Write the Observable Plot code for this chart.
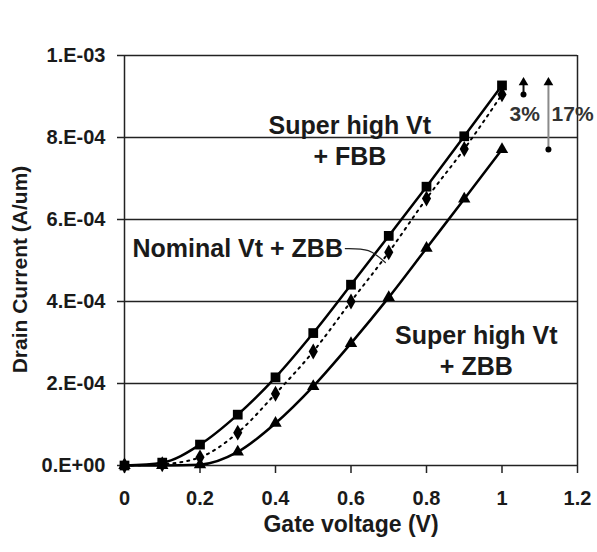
<!DOCTYPE html>
<html>
<head>
<meta charset="utf-8">
<script src="https://cdn.jsdelivr.net/npm/d3@7"></script>
<script src="https://cdn.jsdelivr.net/npm/@observablehq/plot@0.6"></script>
<style>
  html, body { margin: 0; padding: 0; background: #fff; }
  #chart svg { display: block; font-family: "Liberation Sans", Arial, sans-serif; font-weight: bold; }
</style>
</head>
<body>
<div id="chart"></div>
<script>
// Gate voltage (V)
const gateVoltage = [0, 0.1, 0.2, 0.3, 0.4, 0.5, 0.6, 0.7, 0.8, 0.9, 1.0];
// Drain current (A/um)
const superHighFBB = [0, 7e-6, 5.1e-5, 1.24e-4, 2.15e-4, 3.23e-4, 4.41e-4, 5.6e-4, 6.8e-4, 8.03e-4, 9.27e-4];
const nominalZBB   = [0, 3e-6, 2.0e-5, 8.0e-5, 1.75e-4, 2.78e-4, 4.0e-4, 5.2e-4, 6.51e-4, 7.72e-4, 9.05e-4];
const superHighZBB = [0, 0, 2e-6, 3.3e-5, 1.03e-4, 1.93e-4, 2.98e-4, 4.1e-4, 5.3e-4, 6.5e-4, 7.71e-4];

const xTicks = [0, 0.2, 0.4, 0.6, 0.8, 1.0, 1.2];
const xTickLabels = ["0", "0.2", "0.4", "0.6", "0.8", "1", "1.2"];
const yTicks = [0, 2e-4, 4e-4, 6e-4, 8e-4, 1e-3];
const yTickLabels = ["0.E+00", "2.E-04", "4.E-04", "6.E-04", "8.E-04", "1.E-03"];

const seriesLabels = ["Super high Vt\n+ FBB", "Nominal Vt + ZBB", "Super high Vt\n+ ZBB"];
const percentLabels = ["3%", "17%"];
const arrowTip = 9.34e-4;

const rows = (ys) => gateVoltage.map((v, i) => ({v, id: ys[i]}));
const fbb = rows(superHighFBB);
const nom = rows(nominalZBB);
const zbb = rows(superHighZBB);
const last = gateVoltage.length - 1;

const arrows = [
  {x: 1.057, y1: nominalZBB[last], y2: arrowTip, shaft: "#111"},
  {x: 1.123, y1: superHighZBB[last], y2: arrowTip, shaft: "#8a8a8a"}
];

const textColor = "#1a1a1a";

const chart = Plot.plot({
  width: 597,
  height: 552,
  marginLeft: 124,
  marginRight: 20,
  marginTop: 55,
  marginBottom: 87,
  style: {fontFamily: "Liberation Sans, Arial, sans-serif", fontWeight: "bold", background: "#fff"},
  x: {domain: [0, 1.2]},
  y: {domain: [0, 1e-3]},
  marks: [
    Plot.ruleY(yTicks, {stroke: "#222", strokeWidth: 1.5}),
    Plot.ruleX([0], {stroke: "#222", strokeWidth: 1.5}),
    Plot.ruleX([1.2], {stroke: "#222", strokeWidth: 1.5}),
    Plot.axisX({
      ticks: xTicks, tickFormat: (d) => xTickLabels[xTicks.indexOf(d)],
      tickSize: 8, tickPadding: 17, fontSize: 20, stroke: "#222", strokeWidth: 1.5,
      label: null, color: textColor
    }),
    Plot.axisY({
      ticks: yTicks, tickFormat: (d) => yTickLabels[yTicks.indexOf(d)],
      tickSize: 7, tickPadding: 12, fontSize: 20, stroke: "#222", strokeWidth: 1.5,
      label: null, color: textColor
    }),
    Plot.text(["Gate voltage (V)"], {frameAnchor: "bottom", dy: 66, fontSize: 23, fill: textColor}),
    Plot.text(["Drain Current (A/um)"], {x: -0.2755, y: 4.78e-4, rotate: -90, fontSize: 21, fill: textColor}),

    // curves
    Plot.line(fbb, {x: "v", y: "id", curve: "monotone-x", stroke: "#000", strokeWidth: 2.5}),
    Plot.line(nom, {x: "v", y: "id", curve: "monotone-x", stroke: "#000", strokeWidth: 2, strokeDasharray: "2,5"}),
    Plot.line(zbb, {x: "v", y: "id", curve: "monotone-x", stroke: "#000", strokeWidth: 2.5}),
    Plot.dot(fbb, {x: "v", y: "id", symbol: "square", r: 5.5, fill: "#000"}),
    Plot.dot(nom, {x: "v", y: "id", symbol: "diamond", r: 4.8, fill: "#000"}),
    Plot.dot(zbb, {x: "v", y: "id", symbol: "triangle", r: 4.6, fill: "#000"}),

    // annotations
    Plot.text([seriesLabels[0]], {x: 0.597, y: 7.94e-4, fontSize: 25, lineHeight: 1.24, textAnchor: "middle", fill: textColor}),
    Plot.text([seriesLabels[1]], {x: 0.0212, y: 5.29e-4, fontSize: 25, textAnchor: "start", fill: textColor}),
    Plot.line([{x: 0.585, y: 5.29e-4}, {x: 0.646, y: 5.24e-4}, {x: 0.691, y: 4.95e-4}],
      {x: "x", y: "y", curve: "natural", stroke: "#222", strokeWidth: 1.2}),
    Plot.text([seriesLabels[2]], {x: 0.932, y: 2.82e-4, fontSize: 25, lineHeight: 1.24, textAnchor: "middle", fill: textColor}),

    // arrows: shafts, filled heads, base dots
    Plot.ruleX(arrows, {x: "x", y1: "y1", y2: "y2", stroke: "shaft", strokeWidth: 2}),
    Plot.dot(arrows, {x: "x", y: "y2", symbol: "triangle", r: 3.6, fill: "#000"}),
    Plot.dot(arrows, {x: "x", y: "y1", r: 3, fill: "#000"}),
    Plot.text([percentLabels[0]], {x: 1.06, y: 8.56e-4, fontSize: 21, fill: "#333"}),
    Plot.text([percentLabels[1]], {x: 1.187, y: 8.56e-4, fontSize: 21, fill: "#333"})
  ]
});
document.getElementById("chart").appendChild(chart);
</script>
</body>
</html>
